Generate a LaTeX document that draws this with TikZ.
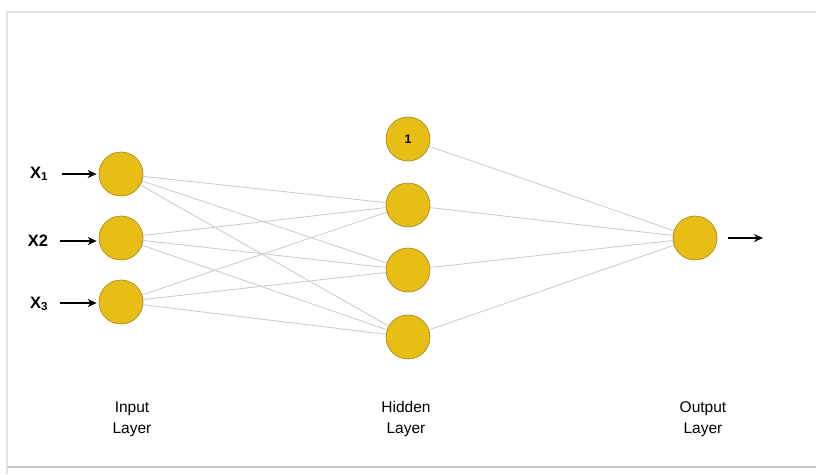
\documentclass[tikz,border=0pt]{standalone}
\usepackage{fontspec}
\setmainfont{Liberation Sans}
\usetikzlibrary{arrows.meta}
\definecolor{neuronfill}{HTML}{E6BE14}
\definecolor{neuronedge}{HTML}{A88A2A}
\definecolor{linkgray}{HTML}{C8C8C8}
\definecolor{framegray}{HTML}{E2E2E2}
\begin{document}
\begin{tikzpicture}[x=1pt,y=-1pt,
  neuron/.style={circle,draw=neuronedge,line width=0.7pt,fill=neuronfill,minimum size=44pt,inner sep=0pt,font=\bfseries\fontsize{12.5}{14}\selectfont},
  link/.style={draw=linkgray,line width=0.8pt},
  inarrow/.style={-{Stealth[length=9pt,width=8pt]},line width=1.3pt,black},
  xlabel/.style={font=\bfseries\fontsize{16.5}{18}\selectfont,inner sep=0pt},
  layerlabel/.style={align=center,font=\fontsize{15.5}{21}\selectfont}]
\useasboundingbox (0,0) rectangle (816,474);
% frame
\draw[framegray,line width=2pt] (7,474) -- (7,12) -- (816,12);
\draw[color=black!22,line width=1.5pt] (7,467) -- (816,467);
% input layer
\node[neuron] (i1) at (121,174) {};
\node[neuron] (i2) at (121,238) {};
\node[neuron] (i3) at (121,302) {};
% hidden layer
\node[neuron] (b) at (408,139) {1};
\node[neuron] (h1) at (408,205) {};
\node[neuron] (h2) at (408,270) {};
\node[neuron] (h3) at (408,337) {};
% output layer
\node[neuron] (o) at (695,238) {};
% weights
\foreach \i in {i1,i2,i3}
  \foreach \h in {h1,h2,h3}
    \draw[link] (\i) -- (\h);
\foreach \h in {b,h1,h2,h3}
  \draw[link] (\h) -- (o);
% inputs
\node[xlabel] (x1) at (39,174) {X\textsubscript{1}};
\node[xlabel] (x2) at (38,241) {X2};
\node[xlabel] (x3) at (39,304) {X\textsubscript{3}};
\coordinate (a1) at (62,174);
\coordinate (a2) at (60,241);
\coordinate (a3) at (60,303);
\draw[inarrow] (a1) -- ([xshift=-2pt]i1.west |- a1);
\draw[inarrow] (a2) -- ([xshift=-2pt]i2.west |- a2);
\draw[inarrow] (a3) -- ([xshift=-2pt]i3.west |- a3);
% output
\coordinate (out) at (763,238);
\draw[inarrow] ([xshift=11pt]o.east) -- (out);
% layer labels
\node[layerlabel] (li) at (132,419) {Input\\Layer};
\node[layerlabel] (lh) at (406,419) {Hidden\\Layer};
\node[layerlabel] (lo) at (703,419) {Output\\Layer};
\end{tikzpicture}
\end{document}
